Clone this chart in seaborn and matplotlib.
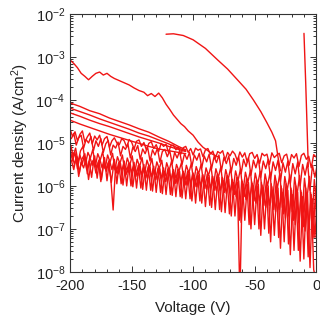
import numpy as np
import pandas as pd
import matplotlib
matplotlib.use("Agg")
import matplotlib.pyplot as plt
import seaborn as sns
from matplotlib.ticker import LogLocator, MultipleLocator, NullFormatter

# ---------------- data (log10 of current density, A/cm^2) ----------------
# noise-floor sweeps, sampled every 2 V; start voltage of each sweep
noise_start = {"A": -200.0, "B": -199.0, "C": -199.5, "D": -198.5, "E": -199.0, "F": -200.0}

noiseA = [-4.68, -4.85, -4.74, -4.95, -4.80, -4.72, -4.98, -4.86, -4.77, -5.02,
          -4.84, -4.93, -4.82, -5.05, -4.90, -4.85, -5.10, -4.95, -4.88, -5.00,
          -5.04, -4.90, -4.95, -5.10, -4.92, -4.98, -5.14, -4.96, -4.93, -5.08,
          -4.99, -5.16, -5.01, -4.97, -5.13, -5.04, -5.20, -5.01, -5.08, -5.03,
          -5.22, -5.06, -5.05, -5.16, -5.09, -5.26, -5.11, -5.08, -5.22, -5.13,
          -5.28, -5.12, -5.17, -5.14, -5.32, -5.16, -5.13, -5.26, -5.19, -5.36,
          -5.20, -5.24, -5.18, -5.40, -5.22, -5.30, -5.19, -5.26, -5.42, -5.21,
          -5.33, -5.23, -5.45, -5.25, -5.22, -5.36, -5.27, -5.48, -5.24, -5.30,
          -5.26, -5.50, -5.23, -5.34, -5.28, -5.24, -5.46, -5.30, -5.26, -5.52,
          -5.27, -5.35, -5.25, -5.55, -5.29, -5.24, -5.38, -5.31, -5.58, -5.27, -5.33]
noiseB = [-4.90, -4.78, -5.05, -4.88, -4.82, -5.12, -4.92, -5.00, -4.85, -5.18,
          -4.95, -5.08, -4.90, -5.22, -5.02, -4.94, -5.28, -5.05, -5.12, -4.98,
          -5.30, -5.08, -5.15, -5.02, -5.35, -5.10, -5.20, -5.06, -5.38, -5.14,
          -5.25, -5.10, -5.42, -5.16, -5.28, -5.12, -5.45, -5.20, -5.15, -5.32,
          -5.18, -5.48, -5.22, -5.35, -5.19, -5.50, -5.25, -5.38, -5.22, -5.55,
          -5.28, -5.40, -5.24, -5.58, -5.30, -5.44, -5.26, -5.60, -5.32, -5.46,
          -5.28, -5.65, -5.34, -5.48, -5.30, -5.68, -5.36, -5.52, -5.32, -5.72,
          -5.38, -5.55, -5.34, -5.75, -5.40, -5.58, -5.36, -5.80, -5.42, -5.60,
          -5.38, -5.85, -5.44, -5.64, -5.40, -5.90, -5.46, -5.68, -5.42, -5.95,
          -5.48, -5.72, -5.44, -6.00, -5.50, -5.75, -5.46, -6.10, -5.52, -5.80, -5.48]
noiseC = [-5.05, -5.30, -5.12, -5.45, -5.18, -5.08, -5.50, -5.22, -5.35, -5.15,
          -5.55, -5.25, -5.40, -5.20, -5.60, -5.28, -5.45, -5.24, -5.62, -5.32,
          -5.48, -5.28, -5.66, -5.35, -5.52, -5.30, -5.70, -5.38, -5.55, -5.34,
          -5.72, -5.40, -5.58, -5.36, -5.75, -5.44, -5.60, -5.40, -5.80, -5.46,
          -5.64, -5.42, -5.82, -5.50, -5.66, -5.46, -5.85, -5.52, -5.70, -5.48,
          -5.90, -5.55, -5.72, -5.50, -5.95, -5.58, -5.76, -5.54, -6.00, -5.60,
          -5.80, -5.56, -6.05, -5.62, -5.85, -5.58, -6.10, -5.65, -5.88, -5.60,
          -6.15, -5.68, -5.92, -5.64, -6.20, -5.70, -5.96, -5.66, -6.30, -5.72,
          -6.00, -5.68, -6.40, -5.75, -6.05, -5.70, -6.50, -5.78, -6.10, -5.74,
          -6.60, -5.80, -6.20, -5.76, -6.75, -5.82, -6.30, -5.78, -6.90, -5.85, -6.40]
noiseD = [-5.25, -5.50, -5.32, -5.70, -5.38, -5.28, -5.62, -5.42, -5.80, -5.35,
          -5.58, -5.40, -5.85, -5.45, -5.66, -5.42, -5.92, -5.50, -5.70, -5.46,
          -5.95, -5.52, -5.74, -5.48, -6.00, -5.55, -5.78, -5.52, -6.05, -5.58,
          -5.82, -5.55, -6.10, -5.60, -5.86, -5.58, -6.15, -5.64, -5.90, -5.60,
          -6.20, -5.66, -5.94, -5.62, -6.25, -5.70, -5.98, -5.66, -6.30, -5.72,
          -6.02, -5.68, -6.35, -5.75, -6.06, -5.72, -6.45, -5.78, -6.10, -5.74,
          -6.55, -5.80, -6.15, -5.76, -6.65, -5.84, -6.20, -5.80, -6.80, -5.86,
          -6.25, -5.82, -6.90, -5.90, -6.35, -5.86, -7.00, -5.92, -6.45, -5.88,
          -7.10, -5.95, -6.55, -5.90, -7.20, -6.00, -6.65, -5.95, -7.35, -6.05,
          -6.80, -6.00, -7.50, -6.10, -6.95, -6.05, -7.65, -6.15, -7.20, -6.10, -7.85]
noiseE = [-5.40, -5.62, -5.30, -5.78, -5.45, -5.58, -5.35, -5.85, -5.48, -5.40,
          -5.70, -5.44, -5.90, -5.50, -5.62, -5.46, -5.80, -6.56, -5.52, -5.72,
          -5.48, -5.98, -5.55, -5.68, -5.50, -6.02, -5.58, -5.76, -5.54, -6.08,
          -5.60, -5.82, -5.56, -6.12, -5.64, -5.86, -5.60, -6.18, -5.66, -5.90,
          -5.62, -6.22, -5.70, -5.94, -5.66, -6.28, -5.72, -5.98, -5.68, -6.35,
          -5.76, -6.02, -5.72, -6.40, -5.80, -6.08, -5.76, -6.50, -5.84, -6.12,
          -5.80, -6.60, -5.88, -6.18, -5.84, -6.70, -5.92, -6.25, -5.88, -6.85,
          -5.96, -6.32, -5.92, -7.00, -6.00, -6.40, -5.96, -7.15, -6.05, -6.50,
          -6.00, -7.30, -6.10, -6.60, -6.05, -7.45, -6.15, -6.75, -6.10, -7.60,
          -6.20, -6.90, -6.15, -7.75, -6.25, -7.05, -6.20, -7.90, -6.30, -7.20, -6.25]
noiseF = [-5.15, -5.42, -5.22, -5.60, -5.28, -5.48, -5.25, -5.72, -5.32, -5.52,
          -5.30, -5.82, -5.36, -5.58, -5.34, -5.88, -5.40, -5.62, -5.38, -5.95,
          -5.44, -5.66, -5.42, -6.00, -5.48, -5.70, -5.45, -6.05, -5.52, -5.74,
          -5.50, -6.10, -5.56, -5.78, -5.54, -6.15, -5.60, -5.82, -5.58, -6.20,
          -5.64, -5.86, -5.62, -6.25, -5.68, -5.90, -5.66, -6.30, -5.72, -5.95,
          -5.70, -6.40, -5.76, -6.00, -5.74, -6.48, -5.80, -6.05, -5.78, -6.55,
          -5.84, -6.10, -5.82, -6.62, -5.88, -6.15, -5.86, -6.70, -5.92, -8.60,
          -5.90, -6.80, -5.96, -6.28, -5.94, -6.90, -6.00, -6.35, -5.98, -7.00,
          -6.04, -6.45, -6.02, -7.15, -6.08, -6.55, -6.06, -7.30, -6.12, -6.70,
          -6.10, -7.50, -6.18, -6.85, -6.15, -7.70, -6.22, -7.00, -6.20, -7.95, -8.20]
noise_step = 2.0

# low-leakage sweeps (nearly straight in log scale, merging into the noise floor)
mid_v = [-200, -192, -184, -176, -168, -160, -152, -144, -136, -128, -120, -112, -106]
mid1 = [-4.07, -4.15, -4.25, -4.32, -4.42, -4.50, -4.58, -4.67, -4.75, -4.86, -4.96, -5.08, -5.16]
mid2 = [-4.19, -4.27, -4.35, -4.44, -4.52, -4.60, -4.68, -4.77, -4.84, -4.93, -5.02, -5.12, -5.18]
mid3 = [-4.30, -4.38, -4.47, -4.55, -4.62, -4.70, -4.78, -4.86, -4.93, -5.00, -5.08, -5.15, -5.20]
mid4 = [-4.47, -4.56, -4.64, -4.72, -4.80, -4.87, -4.94, -5.01, -5.08, -5.14, -5.18, -5.22, -5.25]

# high-leakage sweep
high_v = [-200, -197, -194, -191, -188, -185, -182, -179, -176, -173, -170, -167, -164,
          -160, -156, -152, -148, -144, -140, -137, -134, -131, -128, -125, -122, -119,
          -116, -113, -110, -107, -104, -100, -96, -92, -88, -85, -80]
high = [-3.07, -3.15, -3.25, -3.38, -3.45, -3.53, -3.45, -3.38, -3.35, -3.42, -3.38, -3.45, -3.50,
        -3.55, -3.60, -3.65, -3.72, -3.78, -3.82, -3.90, -3.85, -3.92, -3.84, -3.95, -4.10, -4.22,
        -4.35, -4.45, -4.55, -4.62, -4.72, -4.82, -4.98, -5.10, -5.18, -5.25, -5.32]

# breakdown sweep
brk_v = [-122, -116, -108, -100, -90, -80, -72, -64, -57, -51, -45, -40, -36, -33, -31, -29]
brk = [-2.47, -2.46, -2.50, -2.60, -2.80, -3.07, -3.28, -3.53, -3.75, -4.00, -4.27, -4.53, -4.75, -4.95, -5.33, -5.65]

# sharp low-voltage sweep
sharp_v = [-9.9, -8.5, -7.2, -6.4]
sharp = [-2.45, -3.60, -4.80, -5.55]

noise_curves = {"A": noiseA, "B": noiseB, "C": noiseC, "D": noiseD, "E": noiseE, "F": noiseF}
curves = {
    "m1": (mid_v, mid1), "m2": (mid_v, mid2), "m3": (mid_v, mid3), "m4": (mid_v, mid4),
    "high": (high_v, high), "breakdown": (brk_v, brk), "sharp": (sharp_v, sharp),
}
for name, vals in noise_curves.items():
    vs = [noise_start[name] + noise_step * i for i in range(len(vals))]
    curves["noise" + name] = (vs, vals)

rows = []
for name, (vs, ls) in curves.items():
    for v, l in zip(vs, ls):
        rows.append({"curve": name, "V": v, "J": 10.0 ** l})
df = pd.DataFrame(rows)

# ---------------- plot ----------------
sns.set_style("ticks")
plt.rcParams["font.family"] = ["Liberation Sans", "DejaVu Sans"]
plt.rcParams["mathtext.fontset"] = "custom"
plt.rcParams["mathtext.rm"] = "Liberation Sans"
plt.rcParams["mathtext.it"] = "Liberation Sans:italic"
plt.rcParams["axes.unicode_minus"] = False

fig = plt.figure(figsize=(3.2, 3.26), dpi=100)
ax = fig.add_axes([0.219, 0.166, 0.769, 0.791])

sns.lineplot(data=df, x="V", y="J", units="curve", estimator=None, sort=False,
             color="#f01414", lw=1.0, ax=ax, legend=False)

ax.set_yscale("log")
ax.set_xlim(-200, 0)
ax.set_ylim(1e-8, 1e-2)
ax.xaxis.set_major_locator(MultipleLocator(50))
ax.xaxis.set_minor_locator(MultipleLocator(10))
ax.yaxis.set_major_locator(LogLocator(base=10, numticks=10))
ax.yaxis.set_minor_locator(LogLocator(base=10, subs=np.arange(2, 10), numticks=20))
ax.yaxis.set_minor_formatter(NullFormatter())

ax.tick_params(which="both", direction="in", top=True, right=True, colors="#333333",
               labelcolor="#222222", labelsize=10.5, width=0.7)
ax.tick_params(which="major", length=4)
ax.tick_params(which="minor", length=2)
ax.tick_params(axis="x", which="major", pad=5)
for s in ax.spines.values():
    s.set_color("#333333")
    s.set_linewidth(0.8)

ax.set_xlabel("Voltage (V)", fontsize=11, color="#222222", labelpad=6)
ax.set_ylabel("Current density (A/cm$^2$)", fontsize=11, color="#222222", labelpad=3)

fig.savefig("out.png", dpi=100)
